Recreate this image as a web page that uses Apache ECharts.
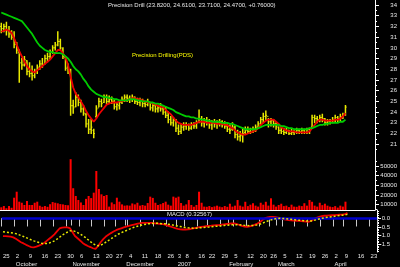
<!DOCTYPE html>
<html><head><meta charset="utf-8">
<script src="https://cdn.jsdelivr.net/npm/echarts@6/dist/echarts.min.js"></script>
<style>html,body{margin:0;padding:0;background:#000;}#c{width:400px;height:267px;}</style>
</head><body><div id="c"></div>
<script>
// ---- calendar (NYSE trading days) ----
const holidays = ['2006-11-23','2006-12-25','2007-01-01','2007-01-02','2007-01-15','2007-02-19','2007-04-06'];
const dates = [];
for (let d = new Date(Date.UTC(2006, 8, 25)); dates.length < 146; d.setUTCDate(d.getUTCDate() + 1)) {
  const dow = d.getUTCDay();
  const s = d.toISOString().slice(0, 10);
  if (dow === 0 || dow === 6 || holidays.includes(s)) continue;
  dates.push(s);
}
const monthNames = ['2007','February','March','April','May','June','July','August','September','October','November','December'];

// ---- price data ----
const opens = [32.0,31.8,32.0,31.6,31.3,31.0,30.3,29.6,28.6,28.4,28.8,27.8,27.6,27.4,27.8,28.2,28.5,28.5,29.0,29.2,29.6,30.0,30.3,30.6,29.9,29.1,28.2,27.5,24.6,24.5,25.4,24.9,24.3,23.8,22.9,22.4,22.3,23.6,24.4,25.0,24.9,25.4,25.0,25.2,25.0,24.5,24.6,24.9,25.2,25.4,25.3,25.2,25.4,25.0,24.9,25.1,24.8,24.7,24.9,24.4,24.6,24.3,24.4,24.3,24.0,23.7,23.3,23.0,23.2,22.5,22.2,22.6,22.7,22.8,22.5,22.8,22.7,23.1,23.4,23.0,23.1,23.2,22.8,23.0,22.9,23.0,23.1,22.9,22.7,22.4,22.4,22.6,21.9,21.7,21.8,22.1,22.3,22.2,22.4,22.3,22.6,22.9,23.3,23.6,23.6,23.1,23.2,22.9,22.6,22.3,22.2,22.1,22.3,22.0,22.1,22.2,22.3,22.2,22.3,22.1,22.4,22.6,23.5,23.4,23.3,23.5,23.4,23.0,23.1,23.2,23.3,23.5,23.4,23.6,23.82];
const highs = [32.3,32.2,32.4,32.0,31.6,31.5,30.5,29.8,29.0,29.2,28.8,28.6,28.3,28.0,28.4,28.8,29.0,29.3,29.5,29.8,30.2,30.5,31.5,30.8,30.0,29.2,28.5,28.0,25.1,25.8,25.6,25.1,24.6,23.9,23.3,23.3,22.4,24.6,25.3,25.2,25.6,25.6,25.5,25.4,25.1,24.9,25.0,25.4,25.6,25.6,25.5,25.6,25.4,25.3,25.3,25.2,25.0,25.2,24.9,24.9,24.8,24.6,24.8,24.5,24.5,24.0,23.6,23.5,23.3,22.8,22.9,23.0,23.0,22.9,23.0,23.0,23.2,24.2,23.6,23.4,23.5,23.3,23.2,23.3,23.2,23.3,23.2,23.1,23.0,22.8,23.0,22.7,22.3,22.2,22.5,22.6,22.6,22.5,22.6,22.8,23.1,23.5,23.9,24.1,23.4,23.4,23.3,23.0,22.6,22.6,22.5,22.5,22.3,22.4,22.3,22.5,22.4,22.5,22.4,22.5,22.5,23.7,23.7,23.6,23.7,23.8,23.4,23.3,23.3,23.5,23.7,23.6,23.8,23.9,24.61];
const lows = [31.4,31.5,31.2,31.0,30.8,30.0,29.5,26.8,28.0,28.3,27.5,27.3,27.0,27.2,27.6,28.0,28.2,28.5,28.7,29.0,29.5,29.8,30.2,29.8,29.0,27.9,27.6,23.7,23.9,24.5,24.6,24.0,23.7,22.6,22.0,22.0,21.6,23.5,24.5,24.5,24.9,24.8,24.9,24.8,24.3,24.2,24.3,24.8,25.0,25.0,24.9,25.0,24.8,24.7,24.6,24.5,24.5,24.6,24.2,24.1,24.0,24.0,24.1,23.8,23.5,23.0,22.8,22.7,22.2,21.9,22.0,22.3,22.4,22.3,22.4,22.5,22.5,23.0,22.7,22.6,22.8,22.5,22.4,22.6,22.5,22.7,22.6,22.5,22.2,22.0,22.3,21.6,21.4,21.3,21.2,22.0,22.0,22.0,22.1,22.2,22.5,22.8,23.0,23.3,22.6,22.7,22.6,22.4,22.0,22.0,21.9,22.0,21.9,21.9,21.9,22.0,22.0,22.0,22.0,22.0,22.0,22.5,23.0,23.0,23.1,23.1,22.8,22.8,22.9,23.0,23.1,23.1,23.2,23.4,23.71];
const closes = [31.8,32.0,31.6,31.3,31.0,30.3,29.8,28.6,28.4,28.9,27.8,27.6,27.4,27.8,28.2,28.5,28.4,29.0,29.2,29.6,30.0,30.2,30.6,30.0,29.2,28.1,28.0,24.6,24.4,25.4,24.9,24.3,23.9,22.9,22.4,22.6,22.0,24.3,25.0,24.8,25.4,25.0,25.2,25.0,24.5,24.7,24.9,25.2,25.4,25.3,25.2,25.4,25.0,24.9,25.1,24.8,24.7,24.9,24.4,24.6,24.3,24.4,24.3,24.0,23.7,23.3,23.0,23.2,22.5,22.2,22.6,22.7,22.8,22.5,22.8,22.7,23.0,23.4,23.0,23.1,23.2,22.8,23.0,22.9,23.0,23.1,22.9,22.7,22.4,22.3,22.6,21.9,21.7,21.8,22.0,22.3,22.2,22.4,22.3,22.6,22.9,23.3,23.6,23.7,23.1,23.2,22.9,22.7,22.3,22.2,22.1,22.3,22.0,22.1,22.2,22.3,22.2,22.3,22.1,22.4,22.3,23.5,23.4,23.3,23.5,23.4,23.0,23.1,23.2,23.3,23.5,23.4,23.6,23.71,24.47];
const maShort = [31.5,31.6,31.7,31.6,31.4,30.9,30.3,29.7,29.2,28.7,28.3,28.0,27.8,27.7,27.9,28.1,28.3,28.5,28.7,28.9,29.2,29.5,29.8,29.8,29.5,29.1,28.4,27.3,26.3,25.7,25.4,25.0,24.6,24.1,23.7,23.4,23.1,23.4,23.8,24.1,24.4,24.7,24.8,24.9,24.9,24.9,25.0,25.0,25.1,25.1,25.2,25.3,25.3,25.2,25.2,25.1,25.0,24.9,24.9,24.8,24.7,24.6,24.5,24.5,24.2,24.0,23.8,23.5,23.2,23.0,22.9,22.8,22.8,22.8,22.8,22.9,23.0,23.1,23.1,23.1,23.0,23.0,23.0,23.0,22.9,22.9,22.9,22.8,22.8,22.6,22.5,22.3,22.1,22.0,21.9,21.9,22.0,22.1,22.2,22.3,22.5,22.8,23.0,23.2,23.3,23.3,23.3,23.1,22.9,22.6,22.4,22.3,22.2,22.2,22.2,22.1,22.1,22.1,22.1,22.1,22.2,22.5,22.8,23.1,23.3,23.3,23.2,23.2,23.2,23.2,23.3,23.3,23.4,23.6,23.9];
const maLong = [33.3,33.2,33.1,33.0,32.9,32.8,32.7,32.6,32.5,32.2,31.9,31.6,31.3,30.9,30.5,30.2,30.0,29.8,29.7,29.6,29.6,29.5,29.5,29.5,29.4,29.2,29.0,28.7,28.3,28.0,27.8,27.5,27.1,26.8,26.4,26.1,25.9,25.7,25.6,25.5,25.4,25.4,25.3,25.3,25.2,25.2,25.1,25.1,25.1,25.1,25.2,25.2,25.2,25.1,25.1,25.0,25.0,25.0,24.9,24.9,24.8,24.8,24.7,24.6,24.5,24.4,24.3,24.2,24.0,23.9,23.8,23.7,23.6,23.6,23.5,23.5,23.4,23.4,23.3,23.3,23.2,23.2,23.1,23.1,23.1,23.1,23.0,23.0,23.0,22.9,22.9,22.8,22.7,22.6,22.5,22.4,22.4,22.4,22.4,22.4,22.5,22.6,22.7,22.8,22.8,22.8,22.8,22.8,22.8,22.7,22.7,22.6,22.5,22.5,22.4,22.4,22.4,22.4,22.4,22.4,22.5,22.5,22.6,22.7,22.8,22.8,22.9,22.9,23.0,23.0,23.0,23.0,23.1,23.1,23.3];
const volumes = [7300,8600,6300,8600,6800,17200,23400,13100,12000,9700,13800,9700,9700,12000,13100,8900,7800,8600,7800,10500,12700,12000,11400,10600,10300,9700,9400,57000,27000,19000,14800,12300,9700,16000,19000,16800,22400,44800,26200,20700,19000,20000,8000,12300,10500,17200,13100,10300,9000,9300,9000,11300,10300,12000,9000,9700,9000,11700,18300,17000,12000,9700,10500,11700,13100,10000,9000,18300,17200,18300,11700,9000,10300,14800,9700,7900,9700,23400,12000,8000,7800,8600,7500,8200,9000,8000,7400,8600,7800,11000,8000,9000,14800,9000,8000,13000,8500,10000,11500,9000,8000,12000,10000,13000,9000,16600,10000,8000,9700,11000,8500,9000,7500,10000,8000,7800,9000,8500,11500,9000,14800,13000,9000,8000,12000,9500,11000,9000,8000,7500,8500,7000,9000,8000,13100];
const macd = [-1.02,-1.03,-1.04,-1.06,-1.10,-1.18,-1.28,-1.38,-1.45,-1.53,-1.60,-1.66,-1.68,-1.64,-1.58,-1.51,-1.42,-1.30,-1.18,-1.06,-0.92,-0.75,-0.58,-0.53,-0.52,-0.52,-0.56,-0.78,-1.02,-1.15,-1.28,-1.42,-1.52,-1.60,-1.66,-1.73,-1.77,-1.60,-1.38,-1.20,-1.05,-0.95,-0.85,-0.76,-0.68,-0.62,-0.57,-0.52,-0.47,-0.43,-0.39,-0.35,-0.31,-0.28,-0.26,-0.25,-0.25,-0.26,-0.26,-0.28,-0.29,-0.31,-0.32,-0.36,-0.41,-0.46,-0.51,-0.56,-0.60,-0.63,-0.64,-0.64,-0.63,-0.61,-0.58,-0.55,-0.52,-0.49,-0.47,-0.45,-0.43,-0.42,-0.40,-0.39,-0.38,-0.36,-0.34,-0.32,-0.30,-0.29,-0.28,-0.32,-0.38,-0.43,-0.47,-0.48,-0.46,-0.42,-0.36,-0.29,-0.20,-0.08,0.02,0.07,0.10,0.10,0.08,0.05,0.01,-0.03,-0.07,-0.09,-0.11,-0.12,-0.13,-0.14,-0.15,-0.16,-0.18,-0.19,-0.13,-0.03,0.04,0.10,0.14,0.16,0.17,0.18,0.19,0.20,0.21,0.22,0.23,0.25,0.32567];
const signal = [-0.77,-0.79,-0.81,-0.83,-0.85,-0.88,-0.93,-0.99,-1.05,-1.11,-1.18,-1.24,-1.30,-1.35,-1.40,-1.44,-1.46,-1.45,-1.42,-1.37,-1.30,-1.20,-1.09,-0.97,-0.88,-0.80,-0.72,-0.70,-0.75,-0.82,-0.90,-1.00,-1.10,-1.22,-1.34,-1.46,-1.55,-1.58,-1.55,-1.48,-1.38,-1.28,-1.18,-1.08,-0.99,-0.90,-0.83,-0.76,-0.70,-0.63,-0.57,-0.51,-0.46,-0.42,-0.38,-0.35,-0.32,-0.30,-0.29,-0.28,-0.28,-0.29,-0.30,-0.31,-0.33,-0.35,-0.38,-0.41,-0.44,-0.47,-0.50,-0.52,-0.54,-0.55,-0.56,-0.56,-0.55,-0.54,-0.53,-0.51,-0.50,-0.48,-0.47,-0.45,-0.44,-0.42,-0.41,-0.39,-0.38,-0.37,-0.36,-0.36,-0.37,-0.38,-0.40,-0.41,-0.42,-0.41,-0.40,-0.37,-0.33,-0.27,-0.20,-0.15,-0.10,-0.05,-0.02,0.00,0.01,0.00,-0.01,-0.03,-0.05,-0.07,-0.09,-0.10,-0.11,-0.13,-0.14,-0.15,-0.14,-0.11,-0.07,-0.03,0.01,0.04,0.07,0.09,0.11,0.13,0.15,0.17,0.19,0.21,0.24];

// ---- axis tick labels ----
const priceTicks = [21,22,23,24,25,26,27,28,29,30,31,32,33,34];
const volumeTicks = [10000,20000,30000,40000,50000];
const macdTicks = [0,-0.5,-1.0,-1.5];
const titleText = 'Precision Drill (23.8200, 24.6100, 23.7100, 24.4700, +0.76000)';
const legendText = 'Precision Drilling(PDS)';
const macdText = 'MACD (0.32567)';

// ---- helpers derived from the calendar ----
function mondayOf(s) { const d = new Date(s + 'T00:00:00Z'); d.setUTCDate(d.getUTCDate() - ((d.getUTCDay() + 6) % 7)); return d.getTime(); }
const weekStart = dates.map((s, i) => i === 0 || mondayOf(s) !== mondayOf(dates[i - 1]));
const monthStart = dates.map((s, i) => i > 0 && s.slice(5, 7) !== dates[i - 1].slice(5, 7));

const ohlc = closes.map((c, i) => [i, opens[i], highs[i], lows[i], c]);
const FONT = 'Liberation Sans';
const TXT = '#e8e8e8';
const AXC = '#ffffff';

function renderOHLC(params, api) {
  const x = api.value(0);
  const o = api.coord([x, api.value(1)]);
  const h = api.coord([x, api.value(2)]);
  const l = api.coord([x, api.value(3)]);
  const c = api.coord([x, api.value(4)]);
  const st = { stroke: '#e8e800', lineWidth: 1.5 };
  return { type: 'group', children: [
    { type: 'line', shape: { x1: h[0], y1: h[1] - 0.5, x2: l[0], y2: l[1] + 0.5 }, style: st },
    { type: 'line', shape: { x1: o[0] - 1.2, y1: o[1], x2: o[0], y2: o[1] }, style: { stroke: '#e8e800', lineWidth: 1 } },
    { type: 'line', shape: { x1: c[0], y1: c[1], x2: c[0] + 1.2, y2: c[1] }, style: { stroke: '#e8e800', lineWidth: 1 } }
  ]};
}

const minorRange = (a, b, step, skip) => { const r = []; for (let v = a; v <= b + 1e-9; v += step) { const vv = Math.round(v * 1000) / 1000; if (!skip.some(s => Math.abs(s - vv) < 1e-6)) r.push(vv); } return r; };

const L = -1.4, R = 23;
const chart = echarts.init(document.getElementById('c'), null, { renderer: 'canvas' });
chart.setOption({
  backgroundColor: '#000000',
  animation: false,
  textStyle: { fontFamily: FONT },
  grid: [
    { left: L, right: R, top: 0, height: 156.3 },
    { left: L, right: R, top: 156.3, height: 53.7 },
    { left: L, right: R, top: 210, height: 42 }
  ],
  xAxis: [
    { type: 'category', gridIndex: 0, data: dates, show: false },
    { type: 'category', gridIndex: 1, data: dates, axisLine: { show: true, lineStyle: { color: AXC, width: 1 } }, axisTick: { show: false }, axisLabel: { show: false } },
    { type: 'category', gridIndex: 2, data: dates, position: 'bottom',
      axisLine: { show: true, lineStyle: { color: '#c8c8c8', width: 1 } },
      axisTick: { show: true, interval: (i) => weekStart[i], length: 8, lineStyle: { color: '#c8c8c8' } },
      axisLabel: { show: true, interval: (i) => weekStart[i], formatter: (v) => String(parseInt(v.slice(8, 10), 10)), align: 'left', margin: 1.5, fontSize: 6, color: TXT, fontFamily: FONT } },
    { type: 'category', gridIndex: 2, data: dates, position: 'bottom', offset: 8,
      axisLine: { show: true, lineStyle: { color: '#c8c8c8', width: 1 } },
      axisTick: { show: true, interval: (i) => monthStart[i], length: 7, lineStyle: { color: '#c8c8c8' } },
      axisLabel: { show: true, interval: (i) => monthStart[i], formatter: (v) => { const m = parseInt(v.slice(5, 7), 10); return m === 1 ? v.slice(0, 4) : monthNames[m - 1]; }, align: 'left', margin: 1, fontSize: 6, color: TXT, fontFamily: FONT } }
  ],
  yAxis: [
    { type: 'value', gridIndex: 0, position: 'right', min: 19.875, max: 34.468, splitLine: { show: false },
      axisLine: { show: true, lineStyle: { color: AXC, width: 1 } },
      axisTick: { show: true, customValues: priceTicks, length: 4, lineStyle: { color: AXC } },
      axisLabel: { show: true, customValues: priceTicks, formatter: (v) => String(v), align: 'right', margin: 22, fontSize: 6, color: TXT, fontFamily: FONT } },
    { type: 'value', gridIndex: 0, position: 'right', min: 19.875, max: 34.468, splitLine: { show: false },
      axisLine: { show: false },
      axisTick: { show: true, customValues: minorRange(20.5, 34, 0.5, priceTicks), length: 2, lineStyle: { color: AXC } },
      axisLabel: { show: false } },
    { type: 'value', gridIndex: 1, position: 'right', min: 4500, max: 60000, splitLine: { show: false },
      axisLine: { show: true, lineStyle: { color: AXC, width: 1 } },
      axisTick: { show: true, customValues: volumeTicks, length: 4, lineStyle: { color: AXC } },
      axisLabel: { show: true, customValues: volumeTicks, formatter: (v) => String(v), align: 'right', margin: 22, fontSize: 6, color: TXT, fontFamily: FONT } },
    { type: 'value', gridIndex: 1, position: 'right', min: 4500, max: 60000, splitLine: { show: false },
      axisLine: { show: false },
      axisTick: { show: true, customValues: minorRange(5000, 55000, 5000, volumeTicks), length: 2, lineStyle: { color: AXC } },
      axisLabel: { show: false } },
    { type: 'value', gridIndex: 2, position: 'right', min: -1.948, max: 0.494, splitLine: { show: false },
      axisLine: { show: true, lineStyle: { color: AXC, width: 1 } },
      axisTick: { show: true, customValues: macdTicks, length: 4, lineStyle: { color: AXC } },
      axisLabel: { show: true, customValues: macdTicks, formatter: (v) => v.toFixed(1), align: 'right', margin: 13, fontSize: 6, color: TXT, fontFamily: FONT } },
    { type: 'value', gridIndex: 2, position: 'right', min: -1.948, max: 0.494, splitLine: { show: false },
      axisLine: { show: false },
      axisTick: { show: true, customValues: minorRange(-1.9, 0.4, 0.1, macdTicks), length: 2, lineStyle: { color: AXC } },
      axisLabel: { show: false } }
  ],
  series: [
    { type: 'custom', name: 'PDS', xAxisIndex: 0, yAxisIndex: 0, renderItem: renderOHLC, data: ohlc, z: 2, clip: true },
    { type: 'line', name: 'MA short', xAxisIndex: 0, yAxisIndex: 0, data: maShort, showSymbol: false, symbol: 'none', lineStyle: { color: '#ee0000', width: 1.8 }, z: 3 },
    { type: 'line', name: 'MA long', xAxisIndex: 0, yAxisIndex: 0, data: maLong, showSymbol: false, symbol: 'none', lineStyle: { color: '#00cc00', width: 1.8 }, z: 3 },
    { type: 'bar', name: 'Volume', xAxisIndex: 1, yAxisIndex: 2, data: volumes, barWidth: 2, itemStyle: { color: '#ff0000' } },
    { type: 'line', name: 'MACD', xAxisIndex: 2, yAxisIndex: 4, data: macd, showSymbol: false, symbol: 'none', lineStyle: { color: '#ee0000', width: 1.8 }, z: 4,
      markLine: { silent: true, symbol: 'none', label: { show: false }, lineStyle: { color: '#0000cc', width: 2.5, type: 'solid' }, data: [{ yAxis: 0 }] } },
    { type: 'line', name: 'Signal', xAxisIndex: 2, yAxisIndex: 4, data: signal, showSymbol: false, symbol: 'none', lineStyle: { color: '#e6e600', width: 1.5, type: [2, 2] }, z: 5 }
  ],
  graphic: [
    { type: 'text', left: 108, top: 2, style: { text: titleText, fill: TXT, font: '6px "Liberation Sans"' } },
    { type: 'text', left: 132, top: 52, style: { text: legendText, fill: '#ffff00', font: '6px "Liberation Sans"' } },
    { type: 'text', left: 167, top: 211.5, style: { text: macdText, fill: TXT, font: '6px "Liberation Sans"' } }
  ]
});
</script></body></html>
